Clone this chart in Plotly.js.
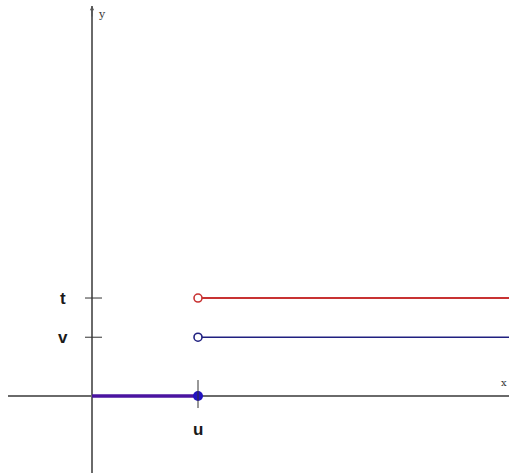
<!DOCTYPE html>
<html>
<head>
<meta charset="utf-8">
<script src="https://cdn.plot.ly/plotly-3.0.1.min.js"></script>
<style>
  html, body { margin: 0; padding: 0; background: #fff; }
  #chart { width: 509px; height: 476px; }
</style>
</head>
<body>
<div id="chart"></div>
<script>
// step function values (symbolic points on the axes)
var uVal = 2;      // x position of the jump
var vVal = 1.5;    // lower level
var tVal = 2.5;    // upper level

var xTickVals = [uVal];
var xTickText = ['u'];
var yTickVals = [vVal, tVal];
var yTickText = ['v', 't'];

// axis ranges picked so the origin sits where the picture has it
var xMin = -1.585, xMax = 7.868;
var yMin = -1.964, yMax = 9.95;

var lowSeg = { x: [0, uVal], y: [0, 0] };
var redSeg = { x: [uVal, xMax], y: [tVal, tVal] };
var blueSeg = { x: [uVal, xMax], y: [vVal, vVal] };

var data = [
  { x: redSeg.x, y: redSeg.y, mode: 'lines', line: {color: '#c83232', width: 2}, hoverinfo: 'skip' },
  { x: blueSeg.x, y: blueSeg.y, mode: 'lines', line: {color: '#202080', width: 1.6}, hoverinfo: 'skip' },
  { x: lowSeg.x, y: lowSeg.y, mode: 'lines', line: {color: '#4a14a0', width: 3.5}, hoverinfo: 'skip' },
  // open ends
  { x: [redSeg.x[0]], y: [redSeg.y[0]], mode: 'markers',
    marker: {symbol: 'circle', size: 8, color: '#fff', line: {color: '#c83232', width: 1.6}} },
  { x: [blueSeg.x[0]], y: [blueSeg.y[0]], mode: 'markers',
    marker: {symbol: 'circle', size: 8, color: '#fff', line: {color: '#202080', width: 1.6}} },
  // closed end
  { x: [lowSeg.x[1]], y: [lowSeg.y[1]], mode: 'markers',
    marker: {symbol: 'circle', size: 10, color: '#2212c0'} }
];

var shapes = [];
yTickVals.forEach(function (v) {
  shapes.push({ type: 'line', xref: 'x', yref: 'y', xsizemode: 'pixel', xanchor: 0,
    x0: -7, x1: 10, y0: v, y1: v, line: {color: '#333', width: 1} });
});
xTickVals.forEach(function (u) {
  shapes.push({ type: 'line', xref: 'x', yref: 'y', ysizemode: 'pixel', yanchor: 0,
    x0: u, x1: u, y0: -12, y1: 16, line: {color: '#333', width: 1} });
});

var labFont = {family: 'Liberation Sans, Arial, sans-serif', size: 17, color: '#1a1a1a'};
var annotations = [];
yTickVals.forEach(function (v, i) {
  annotations.push({ x: 0, y: v, xref: 'x', yref: 'y', text: '<b>' + yTickText[i] + '</b>',
    showarrow: false, xshift: -29, font: labFont });
});
xTickVals.forEach(function (u, i) {
  annotations.push({ x: u, y: 0, xref: 'x', yref: 'y', text: '<b>' + xTickText[i] + '</b>',
    showarrow: false, yshift: -33, font: labFont });
});
// arrow heads and axis names
annotations.push({ x: 0, y: yMax, xref: 'x', yref: 'y', text: '', showarrow: true,
  ax: 0, ay: 12, arrowhead: 2, arrowsize: 0.7, arrowwidth: 1.2, arrowcolor: '#555' });
annotations.push({ x: 0, y: yMax, xref: 'x', yref: 'y', text: 'y', showarrow: false,
  xshift: 10, yshift: -8, font: {family: 'DejaVu Serif, serif', size: 11, color: '#333'} });
annotations.push({ x: xMax, y: 0, xref: 'x', yref: 'y', text: 'x', showarrow: false,
  xanchor: 'right', xshift: 0, yshift: 14, font: {family: 'DejaVu Serif, serif', size: 10, color: '#333'} });

var layout = {
  width: 509, height: 476,
  margin: {l: 8, r: 0, t: 6, b: 3},
  paper_bgcolor: '#fff', plot_bgcolor: '#fff',
  showlegend: false,
  xaxis: { range: [xMin, xMax], showgrid: false, showticklabels: false, ticks: '',
    zeroline: true, zerolinecolor: '#6a6a6a', zerolinewidth: 1.5, showline: false, fixedrange: true },
  yaxis: { range: [yMin, yMax], showgrid: false, showticklabels: false, ticks: '',
    zeroline: true, zerolinecolor: '#6a6a6a', zerolinewidth: 1.5, showline: false, fixedrange: true },
  shapes: shapes,
  annotations: annotations
};

Plotly.newPlot('chart', data, layout, {displayModeBar: false, staticPlot: true});
</script>
</body>
</html>
